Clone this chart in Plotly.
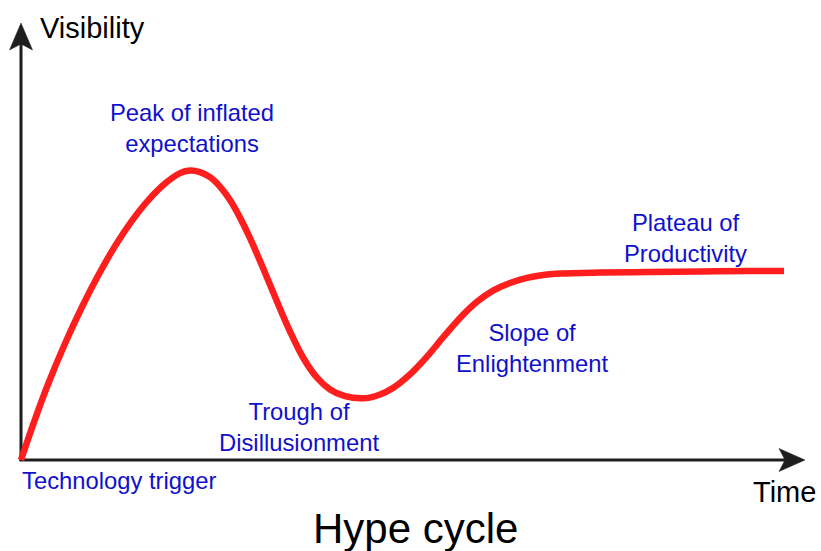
import plotly.graph_objects as go

# ---- data (time in arbitrary units 0..100, visibility in arbitrary units) ----
time = [0, 1.83, 3.54, 5.77, 7.99, 10.09, 12.32, 14.55, 16.64, 18.87, 20.84, 22.15,
        23.46, 24.77, 26.08, 27.39, 28.70, 30.01, 31.72, 33.55, 35.26, 36.96, 38.79,
        40.50, 42.46, 45.09, 47.05, 48.75, 50.98, 53.21, 55.31, 57.54, 59.76, 61.86,
        64.09, 66.32, 68.68, 70.64, 75.88, 82.44, 88.99, 95.54, 100]
visibility = [0, 9.33, 17.40, 26.78, 35.17, 42.34, 49.17, 55.03, 59.63, 63.54, 65.95, 66.53,
              66.18, 65.03, 62.85, 59.75, 55.72, 51.01, 44.14, 36.41, 29.54, 23.56, 18.92,
              16.21, 14.67, 14.21, 15.06, 16.55, 19.68, 23.77, 28.18, 32.67, 36.37, 38.94,
              40.69, 41.86, 42.57, 42.87, 43.10, 43.22, 43.33, 43.45, 43.45]

phase_labels = ["Technology trigger", "Peak of inflated<br>expectations",
                "Trough of<br>Disillusionment", "Slope of<br>Enlightenment",
                "Plateau of<br>Productivity"]
x_label = "Time"
y_label = "Visibility"
title_text = "Hype cycle"

# ---- layout geometry ----
W, H = 821, 551
ORIGIN_PX = (21, 460)
PX_PER_X = 7.63
PX_PER_Y = 4.35

x_range = [-ORIGIN_PX[0] / PX_PER_X, (W - ORIGIN_PX[0]) / PX_PER_X]
y_range = [(ORIGIN_PX[1] - H) / PX_PER_Y, ORIGIN_PX[1] / PX_PER_Y]


def P(px, py):
    return px / W, 1 - py / H


AX_COLOR = "#1e1e1e"
BLUE = "#1010cc"
FONT = "Liberation Sans, Arial, sans-serif"

fig = go.Figure()
fig.add_trace(go.Scatter(
    x=time, y=visibility, mode="lines",
    line=dict(color="#ff1e1e", width=6.5, shape="spline", smoothing=1.0),
    hoverinfo="skip", showlegend=False,
))

shapes = []
# y axis line
x0, y0 = P(21, 461)
x1, y1 = P(21, 44)
shapes.append(dict(type="line", xref="paper", yref="paper", x0=x0, y0=y0, x1=x1, y1=y1,
                   line=dict(color=AX_COLOR, width=3), layer="below"))
# x axis line
x0, y0 = P(19.5, 460)
x1, y1 = P(788, 460)
shapes.append(dict(type="line", xref="paper", yref="paper", x0=x0, y0=y0, x1=x1, y1=y1,
                   line=dict(color=AX_COLOR, width=3), layer="below"))


def path(points):
    s = ""
    for i, (px, py) in enumerate(points):
        a, b = P(px, py)
        s += ("M" if i == 0 else "L") + f"{a:.5f},{b:.5f} "
    return s + "Z"


# arrow heads
shapes.append(dict(type="path", xref="paper", yref="paper",
                   path=path([(21, 23), (32.5, 50), (21, 44), (9.5, 50)]),
                   fillcolor=AX_COLOR, line=dict(color=AX_COLOR, width=0.5), layer="below"))
shapes.append(dict(type="path", xref="paper", yref="paper",
                   path=path([(805, 460), (779, 448.5), (785, 460), (779, 471.5)]),
                   fillcolor=AX_COLOR, line=dict(color=AX_COLOR, width=0.5), layer="below"))

annotations = []


def ann(text, px, py, size, color, xanchor="center"):
    a, b = P(px, py)
    annotations.append(dict(text=text, x=a, y=b, xref="paper", yref="paper",
                            xanchor=xanchor, yanchor="middle", showarrow=False,
                            font=dict(family=FONT, size=size, color=color)))


ann(phase_labels[0], 20, 480, 23.8, BLUE, xanchor="left")
ann(phase_labels[1], 192, 128, 23.8, BLUE)
ann(phase_labels[2], 299, 427, 23.8, BLUE)
ann(phase_labels[3], 532, 348, 23.8, BLUE)
ann(phase_labels[4], 685, 238, 23.8, BLUE)
ann(y_label, 38, 28, 29, "#000000", xanchor="left")
ann(x_label, 751, 492, 29, "#000000", xanchor="left")
ann(title_text, 415, 528, 42, "#000000")

fig.update_layout(
    width=W, height=H,
    margin=dict(l=0, r=0, t=0, b=0),
    paper_bgcolor="white", plot_bgcolor="white",
    xaxis=dict(range=x_range, visible=False, fixedrange=True),
    yaxis=dict(range=y_range, visible=False, fixedrange=True),
    shapes=shapes, annotations=annotations,
    showlegend=False,
)

fig.write_html("out.html", config={"displayModeBar": False},
               post_script="document.body.style.margin='0px';document.body.style.overflow='hidden';")
